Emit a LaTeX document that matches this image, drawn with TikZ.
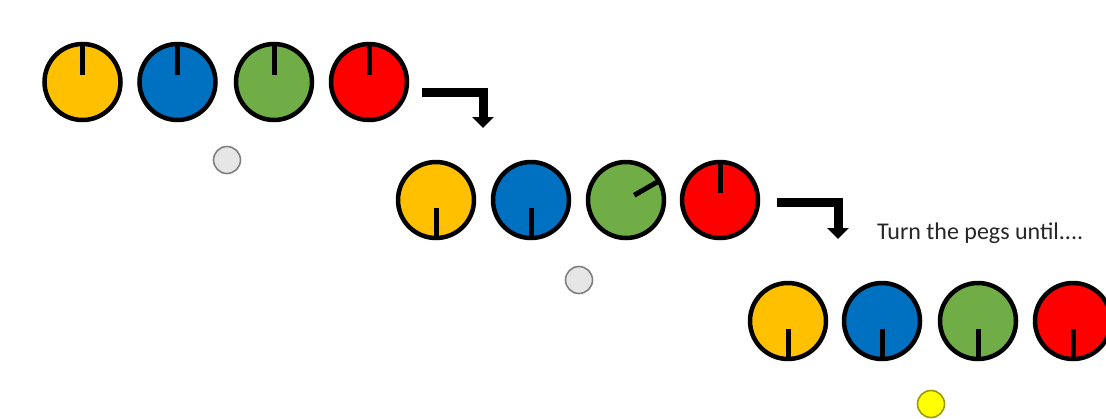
\documentclass[tikz,border=0pt]{standalone}
\usepackage{fontspec}
\setmainfont{Carlito}
\usepackage{xcolor}
\usetikzlibrary{arrows.meta,positioning,calc}
\definecolor{pgYellow}{HTML}{FFC000}
\definecolor{pgBlue}{HTML}{0070C0}
\definecolor{pgGreen}{HTML}{70AD47}
\definecolor{pgRed}{HTML}{FF0000}
\definecolor{pgDot}{HTML}{E6E6E6}
\definecolor{pgDotRim}{HTML}{7F7F7F}
\definecolor{pgLamp}{HTML}{FFFF00}
\definecolor{pgLampRim}{HTML}{9C9A00}
\definecolor{pgText}{HTML}{262626}

\begin{document}
\begin{tikzpicture}[x=1pt,y=-1pt,
  peg/.style={circle,draw=black,line width=4.5pt,minimum size=76pt,inner sep=0pt,outer sep=0pt},
  dot/.style={circle,draw=pgDotRim,line width=1.6pt,fill=pgDot,minimum size=27pt,
              inner sep=0pt},
  lamp/.style={dot,draw=pgLampRim,fill=pgLamp},
  ptr/.style={line width=5pt},
  turn/.style={-{Triangle[width=21pt,length=11pt]},line width=9pt}]

\useasboundingbox (0,0) rectangle (1106,418);
\clip (0,0) rectangle (1106,418);

% first row: all pegs up
\node[peg,fill=pgYellow] (y1) at ( 82.5, 82) {};
\node[peg,fill=pgBlue]   (b1) at (177.5, 82) {};
\node[peg,fill=pgGreen]  (g1) at (274,   82) {};
\node[peg,fill=pgRed]    (r1) at (369,   82) {};
\node[dot] (d1) at (227,160) {};

% second row
\node[peg,fill=pgYellow] (y2) at (436,200) {};
\node[peg,fill=pgBlue]   (b2) at (531,200) {};
\node[peg,fill=pgGreen]  (g2) at (626,200) {};
\node[peg,fill=pgRed]    (r2) at (720,200) {};
\node[dot] (d2) at (579,280) {};

% third row
\node[peg,fill=pgYellow] (y3) at ( 788,321) {};
\node[peg,fill=pgBlue]   (b3) at ( 882,321) {};
\node[peg,fill=pgGreen]  (g3) at ( 978,321) {};
\node[peg,fill=pgRed]    (r3) at (1073,321) {};
\node[lamp] (d3) at (931,404) {};

\node[anchor=west,inner sep=0pt,text=pgText,font=\fontsize{24}{28}\selectfont]
  (note) at (877,233) {Turn the pegs until....};

% pointers
\draw[ptr] ($(y1.center)!0.18!(y1.90)$) -- (y1.90);
\draw[ptr] ($(b1.center)!0.18!(b1.90)$) -- (b1.90);
\draw[ptr] ($(g1.center)!0.18!(g1.90)$) -- (g1.90);
\draw[ptr] ($(r1.center)!0.18!(r1.90)$) -- (r1.90);

\draw[ptr] ($(y2.center)!0.22!(y2.-90)$) -- (y2.-90);
\draw[ptr] ($(b2.center)!0.22!(b2.-90)$) -- (b2.-90);
\draw[ptr] ($(g2.center)!0.25!(g2.30)$) -- (g2.30);
\draw[ptr] ($(r2.center)!0.18!(r2.90)$) -- (r2.90);

\draw[ptr] ($(y3.center)!0.22!(y3.-90)$) -- (y3.-90);
\draw[ptr] ($(b3.center)!0.22!(b3.-90)$) -- (b3.-90);
\draw[ptr] ($(g3.center)!0.22!(g3.-90)$) -- (g3.-90);
\draw[ptr] ($(r3.center)!0.22!(r3.-90)$) -- (r3.-90);

% turn arrows
\coordinate (t1a) at (422,92);
\coordinate (t1b) at (483,128);
\coordinate (t2a) at (777,202);
\coordinate (t2b) at (838,239);
\draw[turn] (t1a) -| (t1b);
\draw[turn] (t2a) -| (t2b);
\end{tikzpicture}
\end{document}
